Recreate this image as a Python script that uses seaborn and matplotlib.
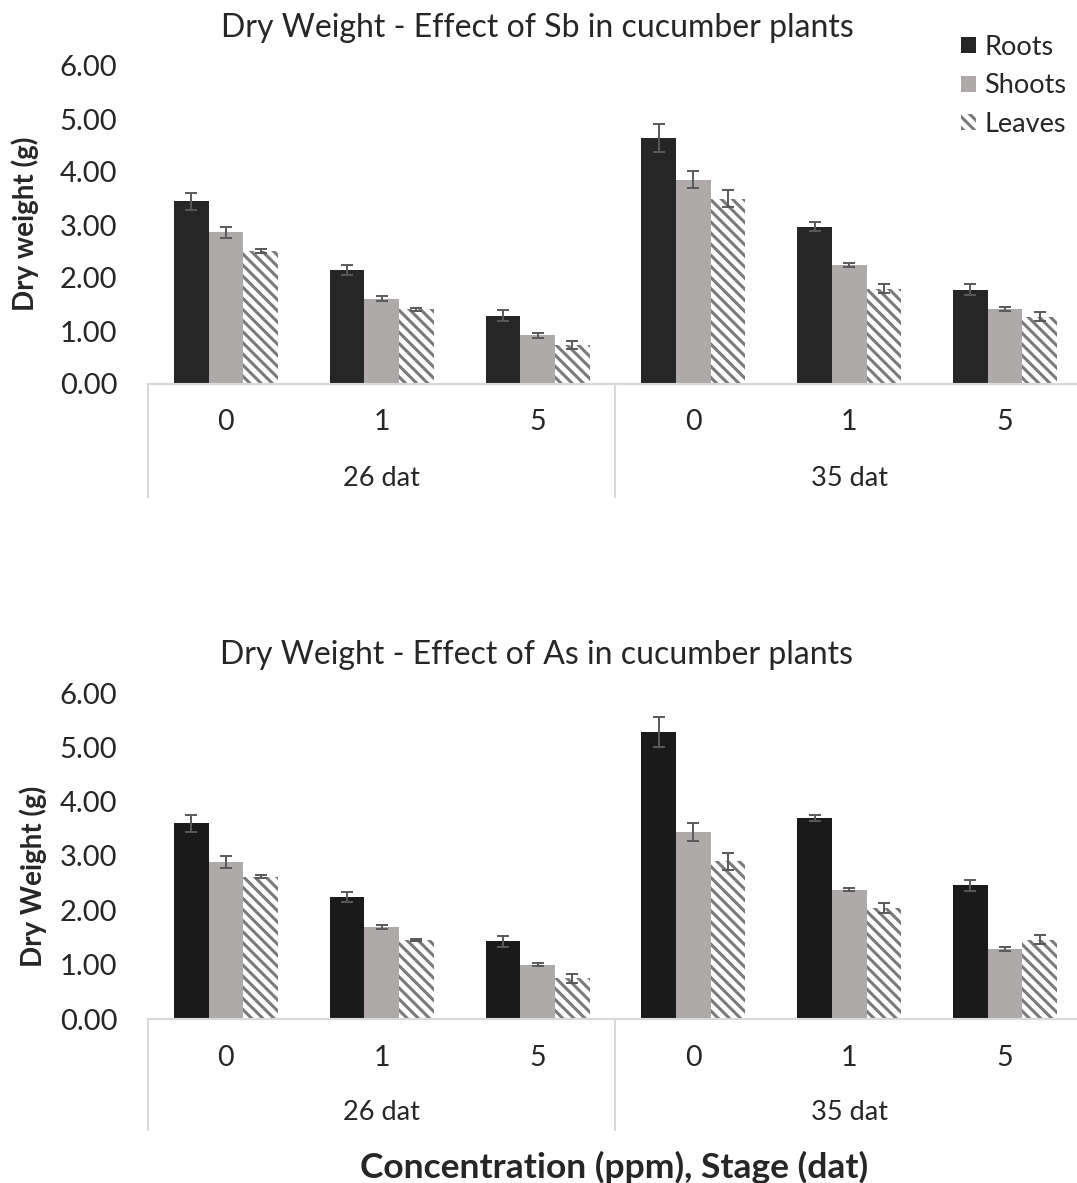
import numpy as np
import pandas as pd
import matplotlib
matplotlib.use("Agg")
import matplotlib.pyplot as plt
import matplotlib.transforms as mtransforms
from matplotlib.patches import Patch
import seaborn as sns

# ---------------- data ----------------
stages = ["26 dat", "35 dat"]
concentrations = ["0", "1", "5"]
organs = ["Roots", "Shoots", "Leaves"]

# Sb (top chart) means, order: 26dat 0,1,5 then 35dat 0,1,5
sb_roots = [3.45, 2.15, 1.29, 4.64, 2.97, 1.78]
sb_shoots = [2.86, 1.61, 0.92, 3.85, 2.25, 1.41]
sb_leaves = [2.51, 1.41, 0.74, 3.50, 1.80, 1.27]
sb_roots_err = [0.16, 0.09, 0.11, 0.27, 0.08, 0.10]
sb_shoots_err = [0.11, 0.05, 0.05, 0.16, 0.04, 0.04]
sb_leaves_err = [0.03, 0.03, 0.08, 0.16, 0.09, 0.09]

# As (bottom chart)
as_roots = [3.60, 2.25, 1.43, 5.28, 3.70, 2.46]
as_shoots = [2.89, 1.69, 1.00, 3.44, 2.38, 1.29]
as_leaves = [2.62, 1.46, 0.75, 2.90, 2.04, 1.46]
as_roots_err = [0.15, 0.09, 0.10, 0.27, 0.05, 0.10]
as_shoots_err = [0.11, 0.04, 0.03, 0.16, 0.03, 0.03]
as_leaves_err = [0.03, 0.02, 0.08, 0.15, 0.09, 0.08]

titles = ["Dry Weight - Effect of Sb in cucumber plants",
          "Dry Weight - Effect of As in cucumber plants"]
ylabels = ["Dry weight (g)", "Dry Weight (g)"]
xlabel = "Concentration (ppm), Stage (dat)"
yticks = [0, 1, 2, 3, 4, 5, 6]

# ---------------- style ----------------
sns.set_theme(style="white")
plt.rcParams['font.family'] = ['Lato', 'DejaVu Sans']
plt.rcParams['hatch.linewidth'] = 2.2

W, H = 1077, 1183
fig = plt.figure(figsize=(W / 100, H / 100), dpi=100)

def fy(px):
    return 1 - px / H

positions = [f"{s}|{c}" for s in stages for c in concentrations]

def make_df(r, s, l):
    rows = []
    for org, vals in zip(organs, [r, s, l]):
        for p, v in zip(positions, vals):
            rows.append({"pos": p, "organ": org, "value": v})
    return pd.DataFrame(rows)

charts = [
    dict(df=make_df(sb_roots, sb_shoots, sb_leaves),
         errs=[sb_roots_err, sb_shoots_err, sb_leaves_err],
         top=66, bottom=384, root_col="#262626", line_bottom=497,
         conc_y=422, stage_y=478, ylab_x=39, ylab_y=224),
    dict(df=make_df(as_roots, as_shoots, as_leaves),
         errs=[as_roots_err, as_shoots_err, as_leaves_err],
         top=693, bottom=1019, root_col="#1a1a1a", line_bottom=1130,
         conc_y=1058, stage_y=1112, ylab_x=47, ylab_y=876),
]

left_px, right_px = 148, 1083
shoot_col = "#aeaaaa"
hatch_col = "#7a7a7a"
err_col = "#595959"
axis_col = "#d9d9d9"
axw = right_px - left_px

for i, ch in enumerate(charts):
    h_px = ch["bottom"] - ch["top"]
    ax = fig.add_axes([left_px / W, fy(ch["bottom"]), axw / W, h_px / H])
    palette = {"Roots": ch["root_col"], "Shoots": shoot_col, "Leaves": "white"}
    sns.barplot(data=ch["df"], x="pos", y="value", hue="organ", order=positions,
                hue_order=organs, palette=palette, errorbar=None, width=0.667,
                gap=0, legend=False, ax=ax, saturation=1)
    bar_conts = list(ax.containers)
    for k, cont in enumerate(bar_conts):
        bars = [b for b in cont.patches if b is not None]
        for bar in bars:
            bar.set_linewidth(0)
            if organs[k] == "Leaves":
                bar.set_facecolor("white")
                bar.set_edgecolor(hatch_col)
                bar.set_hatch("\\\\\\")
        xs = [b.get_x() + b.get_width() / 2 for b in bars]
        ys = [b.get_height() for b in bars]
        ax.errorbar(xs, ys, yerr=ch["errs"][k], fmt="none", ecolor=err_col,
                    elinewidth=1.4, capsize=4.3, capthick=1.4, zorder=5)

    ax.set_xlim(-0.5, len(positions) - 0.5)
    ax.set_ylim(0, 6)
    ax.set_yticks(yticks)
    ax.set_yticklabels([f"{t:.2f}" for t in yticks], fontsize=21)
    ax.set_xticks(range(len(positions)))
    ax.set_xticklabels([])
    ax.tick_params(axis="y", length=0, pad=22)
    ax.tick_params(axis="x", length=0)
    for sp in ["top", "right", "left"]:
        ax.spines[sp].set_visible(False)
    ax.spines["bottom"].set_color(axis_col)
    ax.spines["bottom"].set_linewidth(1.5)
    ax.set_xlabel("")
    ax.set_ylabel(ylabels[i], fontsize=20, fontweight="bold")
    ax.yaxis.set_label_coords((ch["ylab_x"] - left_px) / axw,
                              (ch["bottom"] - ch["ylab_y"]) / h_px)

    trans = mtransforms.blended_transform_factory(ax.transData, ax.transAxes)
    conc_y = -(ch["conc_y"] - ch["bottom"]) / h_px
    stage_y = -(ch["stage_y"] - ch["bottom"]) / h_px
    line_y = -(ch["line_bottom"] - ch["bottom"]) / h_px
    for j, p in enumerate(positions):
        ax.text(j, conc_y, p.split("|")[1], transform=trans, ha="center",
                va="center", fontsize=20.5)
    for s_i, s in enumerate(stages):
        ax.text(s_i * 3 + 1, stage_y, s, transform=trans, ha="center",
                va="center", fontsize=19.5)
    for xb in [-0.5, 2.5, 5.5]:
        ax.plot([xb, xb], [0, line_y], transform=trans, color=axis_col,
                lw=1.5, clip_on=False)

    fig.text(537 / W, fy(ch["top"] - 38), titles[i], ha="center", va="center",
             fontsize=23)

fig.text(614 / W, fy(1167), xlabel, ha="center", va="center", fontsize=25.5,
         fontweight="bold")

handles = [Patch(facecolor="#262626", edgecolor="none", label="Roots"),
           Patch(facecolor=shoot_col, edgecolor="none", label="Shoots"),
           Patch(facecolor="white", edgecolor=hatch_col, hatch="\\\\\\",
                 linewidth=0, label="Leaves")]
fig.legend(handles=handles, loc="upper right", bbox_to_anchor=(1.0, fy(24)),
           frameon=False, fontsize=19.5, handlelength=0.55, handleheight=0.55,
           handletextpad=0.3, labelspacing=0.5, borderaxespad=0)

fig.savefig("out.png", dpi=100)
